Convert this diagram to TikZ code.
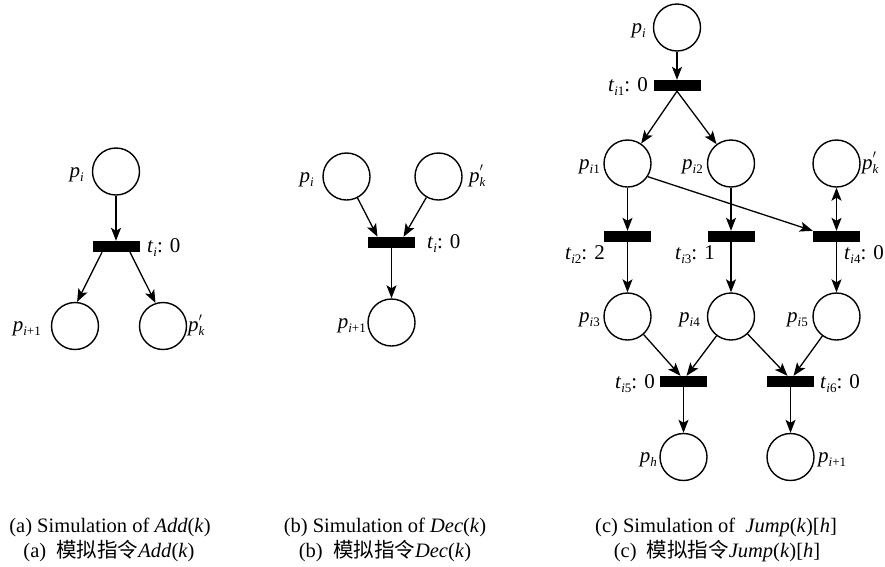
\documentclass[tikz,border=0pt]{standalone}
\usepackage{fontspec}
\setmainfont{Liberation Serif}
\newfontfamily\cjk{Noto Sans CJK SC}
\usetikzlibrary{arrows.meta,calc}
\newcommand\subsz{\fontsize{13}{13}\selectfont}
\newcommand\ix{\textit{i}}
\newcommand\pn[1]{\textit{p}\raisebox{-0.45ex}{\subsz #1}}
\newcommand\tn[1]{\textit{t}\raisebox{-0.45ex}{\subsz #1}}
\newcommand\pkp{\textit{p}\makebox[0pt][l]{\raisebox{1.05ex}{\subsz$\prime$}}\raisebox{-0.45ex}{\subsz\textit{k}}}
\tikzset{
  placenode/.style={circle, draw, line width=1.4pt, minimum size=47pt, inner sep=0pt},
  transbar/.style={rectangle, fill=black, minimum width=47pt, minimum height=11pt, inner sep=0pt},
  arcarrow/.style={line width=1.3pt, -{Stealth[length=13pt,width=10pt,inset=3pt]}},
  arcboth/.style={line width=1.3pt, {Stealth[length=13pt,width=10pt,inset=3pt]}-{Stealth[length=13pt,width=10pt,inset=3pt]}},
  labtext/.style={inner sep=0pt, font=\fontsize{21}{21}\selectfont},
  captext/.style={inner sep=0pt, anchor=base, font=\fontsize{20.5}{20.5}\selectfont}
}
\begin{document}
\begin{tikzpicture}[x=1pt,y=-1pt]
\useasboundingbox[fill=white] (0,0) rectangle (885,566);
% ---------- (a)
\node[placenode] (aPi) at (116,171.5) {};
\node[transbar] (aT) at (116,246.5) {};
\node[placenode] (aPn) at (75,326) {};
\node[placenode] (aPk) at (163,326) {};
\node[labtext, anchor=base east] (aPiL) at (84,177) {\pn{\ix}};
\node[labtext, anchor=base west] (aTL) at (147,252.5) {\tn{\ix}: 0};
\node[labtext, anchor=base east] (aPnL) at (41,331.5) {\pn{\ix+1}};
\node[labtext, anchor=base west] (aPkL) at (188,331.5) {\pkp};
\draw[arcarrow] (aPi) -- (aT);
\draw[arcarrow] ($(aT.south)+(-14,0)$) -- (aPn.85);
\draw[arcarrow] ($(aT.south)+(14,0)$) -- (aPk.108);
% ---------- (b)
\node[placenode] (bPi) at (346.5,176.5) {};
\node[placenode] (bPk) at (438.5,176.5) {};
\node[transbar] (bT) at (391.5,242.5) {};
\node[placenode] (bPn) at (391.5,322.5) {};
\node[labtext, anchor=base east] (bPiL) at (314,182) {\pn{\ix}};
\node[labtext, anchor=base west] (bPkL) at (469,182) {\pkp};
\node[labtext, anchor=base west] (bTL) at (427,248.5) {\tn{\ix}: 0};
\node[labtext, anchor=base east] (bPnL) at (366,328) {\pn{\ix+1}};
\draw[arcarrow] (bPi) -- ($(bT.north)+(-14,0)$);
\draw[arcarrow] (bPk) -- ($(bT.north)+(12,0)$);
\draw[arcarrow] (bT) -- (bPn);
% ---------- (c)
\node[placenode] (cPi) at (677,27.5) {};
\node[transbar] (cT1) at (677,85.5) {};
\node[placenode] (cP1) at (627.5,163.5) {};
\node[placenode] (cP2) at (731,163.5) {};
\node[placenode] (cPk) at (836.5,163.5) {};
\node[transbar] (cT2) at (627.5,236.5) {};
\node[transbar] (cT3) at (731,236.5) {};
\node[transbar] (cT4) at (836.5,236.5) {};
\node[placenode] (cP3) at (627.5,316.5) {};
\node[placenode] (cP4) at (731,316.5) {};
\node[placenode] (cP5) at (836.5,316.5) {};
\node[transbar] (cT5) at (683.5,381.5) {};
\node[transbar] (cT6) at (790.5,381.5) {};
\node[placenode] (cPh) at (683.5,457) {};
\node[placenode] (cPn) at (790.5,457) {};
\node[labtext, anchor=base east] (cPiL) at (646,33) {\pn{\ix}};
\node[labtext, anchor=base east] (cT1L) at (648,91.5) {\tn{\ix1}: 0};
\node[labtext, anchor=base east] (cP1L) at (600,169) {\pn{\ix1}};
\node[labtext, anchor=base east] (cP2L) at (703,169) {\pn{\ix2}};
\node[labtext, anchor=base west] (cPkL) at (862,169) {\pkp};
\node[labtext, anchor=base east] (cT2L) at (605,259) {\tn{\ix2}: 2};
\node[labtext, anchor=base east] (cT3L) at (715,259) {\tn{\ix3}: 1};
\node[labtext, anchor=base west] (cT4L) at (844,259) {\tn{\ix4}: 0};
\node[labtext, anchor=base east] (cP3L) at (600,322) {\pn{\ix3}};
\node[labtext, anchor=base east] (cP4L) at (700,322) {\pn{\ix4}};
\node[labtext, anchor=base east] (cP5L) at (808,322) {\pn{\ix5}};
\node[labtext, anchor=base east] (cT5L) at (655,388) {\tn{\ix5}: 0};
\node[labtext, anchor=base west] (cT6L) at (820,388) {\tn{\ix6}: 0};
\node[labtext, anchor=base east] (cPhL) at (657,462) {\pn{\textit{h}}};
\node[labtext, anchor=base west] (cPnL) at (818,462) {\pn{\ix+1}};
\draw[arcarrow] (cPi) -- (cT1);
\draw[arcarrow] (cT1.south) -- (cP1);
\draw[arcarrow] (cT1.south) -- (cP2);
\draw[arcarrow] (cP1) -- (cT2);
\draw[arcarrow] (cP2) -- (cT3);
\draw[arcarrow] (cP1.-33) -- (cT4.north west);
\draw[arcboth] (cPk) -- (cT4);
\draw[arcarrow] (cT2) -- (cP3);
\draw[arcarrow] (cT3) -- (cP4);
\draw[arcarrow] (cT4) -- (cP5);
\draw[arcarrow] (cP3) -- ($(cT5.north)+(-3,0)$);
\draw[arcarrow] (cP4) -- ($(cT5.north)+(3,0)$);
\draw[arcarrow] (cP4) -- ($(cT6.north)+(-3,0)$);
\draw[arcarrow] (cP5) -- ($(cT6.north)+(3,0)$);
\draw[arcarrow] (cT5) -- (cPh);
\draw[arcarrow] (cT6) -- (cPn);
% ---------- captions
\node[captext] (capA1) at (110,532.5) {(a) Simulation of \textit{Add}(\textit{k})};
\node[captext] (capB1) at (385,532.5) {(b) Simulation of \textit{Dec}(\textit{k})};
\node[captext] (capC1) at (716,532.5) {(c) Simulation of \ \textit{Jump}(\textit{k})[\textit{h}]};
\node[captext] (capA2) at (109,557) {(a)\ \ {\cjk 模拟指令}\textit{Add}(\textit{k})};
\node[captext] (capB2) at (385,557) {(b)\ \ {\cjk 模拟指令}\textit{Dec}(\textit{k})};
\node[captext] (capC2) at (717,557) {(c)\ \ {\cjk 模拟指令}\textit{Jump}(\textit{k})[\textit{h}]};
\end{tikzpicture}
\end{document}
